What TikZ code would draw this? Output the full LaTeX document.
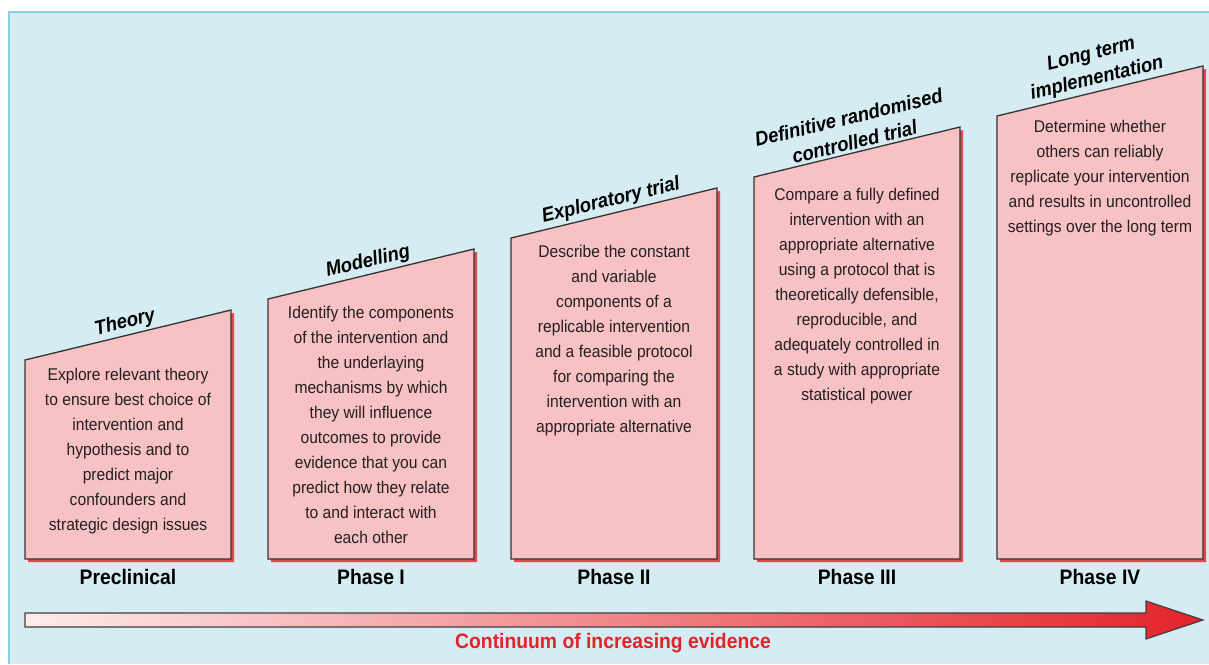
\documentclass[tikz,border=0pt]{standalone}
\usepackage{fontspec}
\setmainfont{Liberation Sans}[FakeStretch=0.92]
\usetikzlibrary{positioning,calc}

\definecolor{bgblue}{HTML}{D5ECF2}
\definecolor{framecyan}{HTML}{86D3E3}
\definecolor{boxpink}{HTML}{F8C1C4}
\definecolor{shadowred}{HTML}{E8464D}
\definecolor{arrowred}{HTML}{E3232A}
\definecolor{arrowpale}{HTML}{FDEBEB}
\definecolor{textgray}{HTML}{231F20}

\begin{document}
\begin{tikzpicture}[x=1pt,y=-1pt]
    \tikzset{
      phase box/.style = {fill=boxpink, draw=black!80, line width=1.3pt},
      box shadow/.style = {fill=shadowred},
      body text/.style = {anchor=north, align=center, inner sep=0pt, text=textgray,
                          font=\fontsize{17}{25}\selectfont},
      title text/.style = {anchor=south, align=center, inner sep=3pt, rotate=13.6,
                           font=\bfseries\itshape\fontsize{20}{25}\selectfont},
      phase label/.style = {font=\bfseries\fontsize{21}{24}\selectfont}
    }
    \useasboundingbox (0,0) rectangle (1209,664);
    %% background and frame
    \fill[white] (0,0) rectangle (1209,664);
    \fill[bgblue] (9,12) rectangle (1209,664);
    \draw[framecyan, line width=1.5pt] (9,664) -- (9,12) -- (1209,12);
    %% five boxes, each one step higher than the last
    \foreach \i [evaluate=\i as \xl using 25+243*\i,
                 evaluate=\i as \yl using 360-61*\i] in {0,...,4}{
      \fill[box shadow] (\xl+3,\yl+3) -- (\xl+209,\yl-47) -- (\xl+209,562) -- (\xl+3,562) -- cycle;
      \draw[phase box] (\xl,\yl) coordinate (tl\i) -- (\xl+206,\yl-50) coordinate (tr\i)
                       -- (\xl+206,559) -- (\xl,559) -- cycle;
    }
    %% titles along the slanted tops
    \node[title text] (theory) at ($(tl0)!0.5!(tr0)$) {Theory};
    \node[title text] (model)  at ($(tl1)!0.5!(tr1)$) {Modelling};
    \node[title text] (explor) at ($(tl2)!0.5!(tr2)$) {Exploratory trial};
    \node[title text] (rct)    at ($(tl3)!0.5!(tr3)$) {Definitive randomised\\controlled trial};
    \node[title text] (longt)  at ($(tl4)!0.5!(tr4)$) {Long term\\implementation};
    %% box texts
    \node[body text] (txt0) at ($(tl0)+(103,8)$) {Explore relevant theory\\to ensure best choice of\\intervention and\\hypothesis and to\\predict major\\confounders and\\strategic design issues};
    \node[body text] (txt1) at ($(tl1)+(103,7)$) {Identify the components\\of the intervention and\\the underlaying\\mechanisms by which\\they will influence\\outcomes to provide\\evidence that you can\\predict how they relate\\to and interact with\\each other};
    \node[body text] (txt2) at ($(tl2)+(103,7)$) {Describe the constant\\and variable\\components of a\\replicable intervention\\and a feasible protocol\\for comparing the\\intervention with an\\appropriate alternative};
    \node[body text] (txt3) at ($(tl3)+(103,11)$) {Compare a fully defined\\intervention with an\\appropriate alternative\\using a protocol that is\\theoretically defensible,\\reproducible, and\\adequately controlled in\\a study with appropriate\\statistical power};
    \node[body text] (txt4) at ($(tl4)+(103,4)$) {Determine whether\\others can reliably\\replicate your intervention\\and results in uncontrolled\\settings over the long term};
    %% phase labels under the boxes
    \node[phase label] (pre) at (128,577) {Preclinical};
    \node[phase label] (ph1) at (371,577) {Phase I};
    \node[phase label] (ph2) at (614,577) {Phase II};
    \node[phase label] (ph3) at (857,577) {Phase III};
    \node[phase label] (ph4) at (1100,577) {Phase IV};
    %% evidence arrow
    \shade[left color=arrowpale, right color=arrowred, draw=black!75, line width=1.2pt]
      (25,613) -- (1146,613) -- (1146,601) -- (1203,620) -- (1146,639) -- (1146,627) -- (25,627) -- cycle;
    \node[phase label, text=arrowred] (evid) at (613,643) {Continuum of increasing evidence};
\end{tikzpicture}
\end{document}
